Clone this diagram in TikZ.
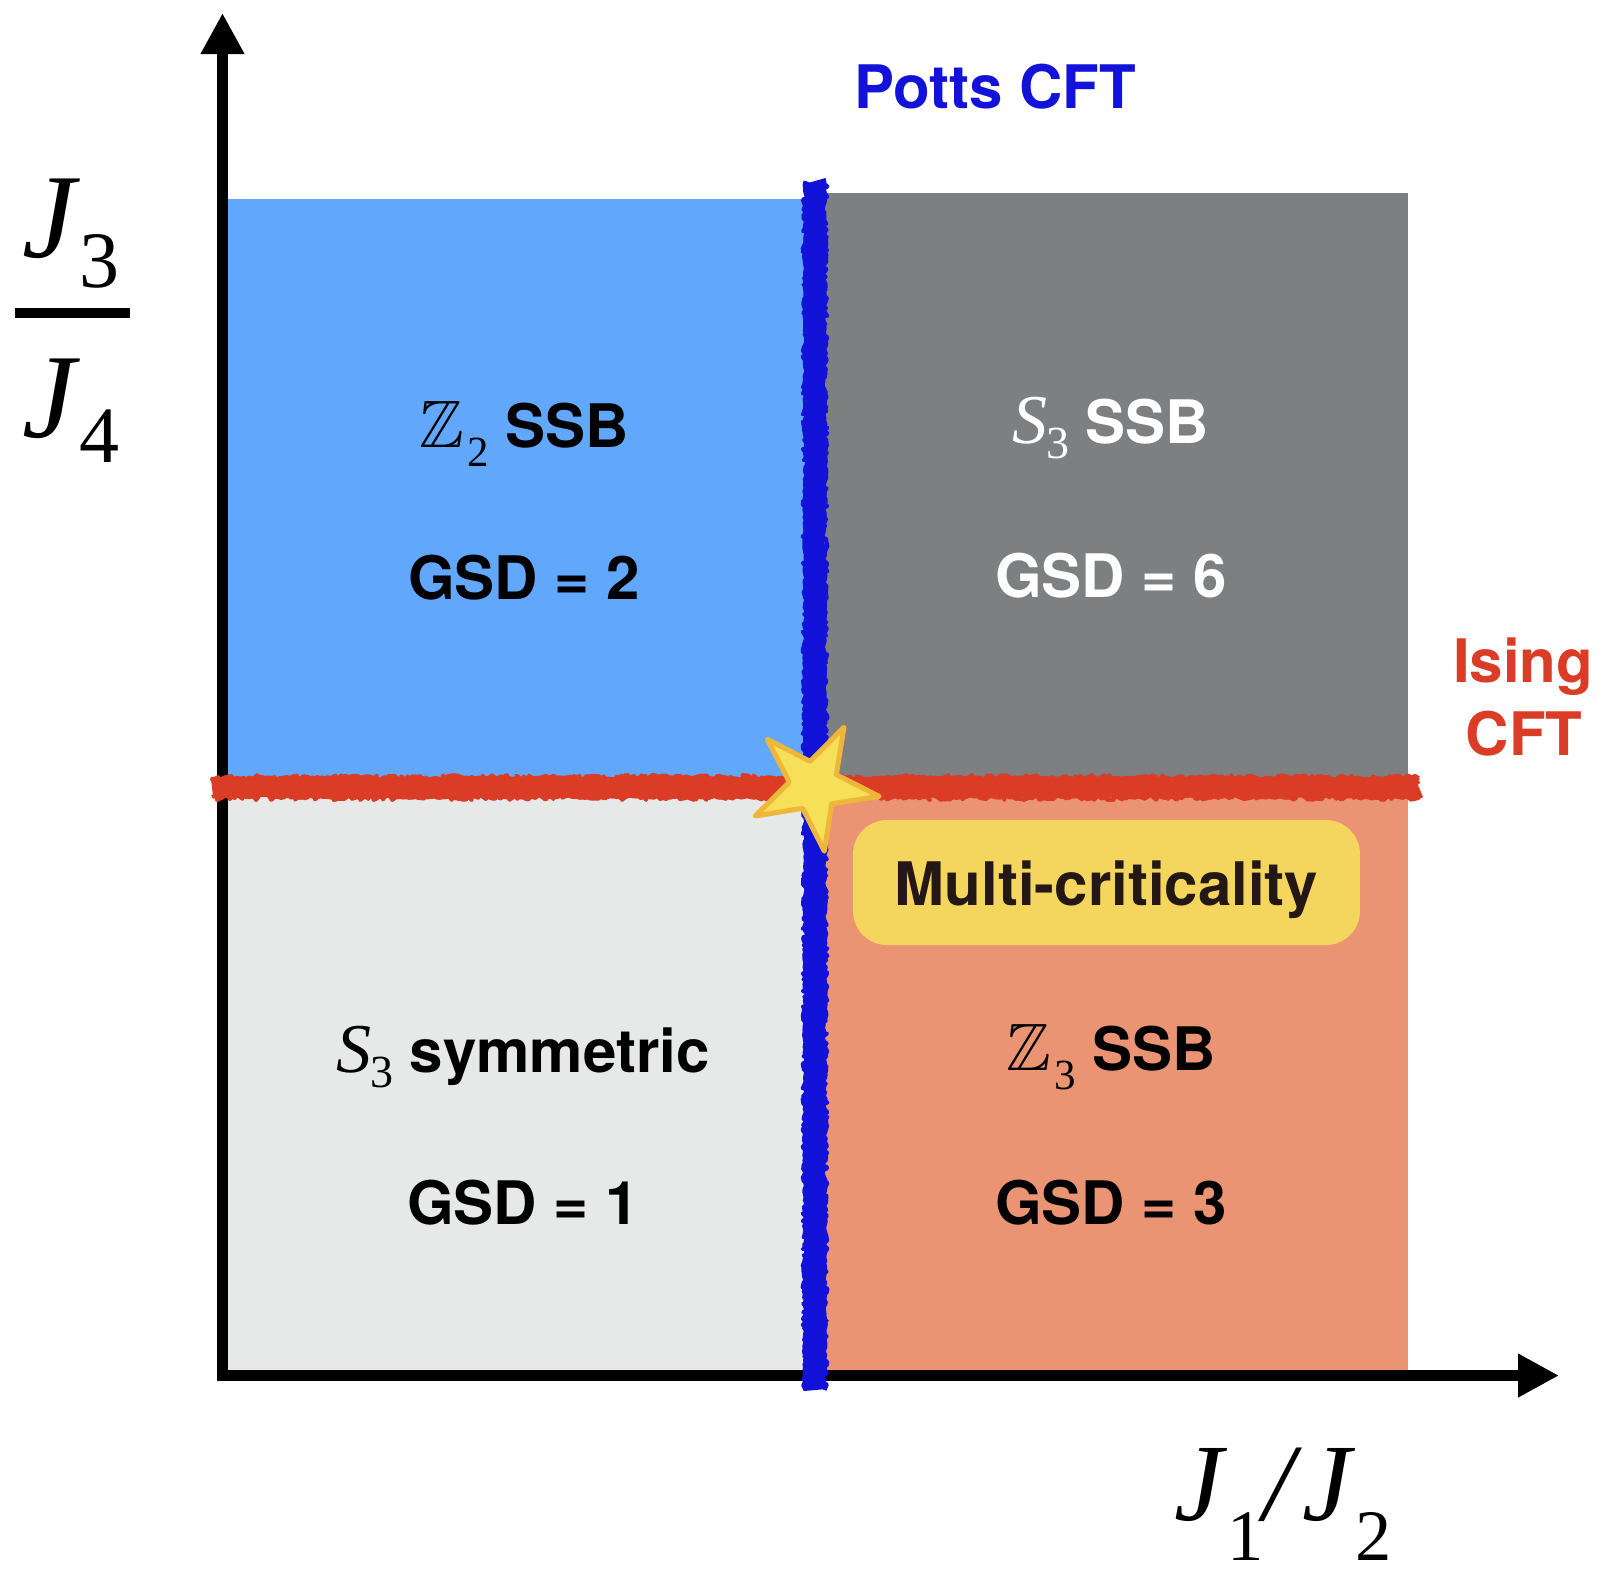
\documentclass[tikz,border=0pt]{standalone}
\usepackage{amssymb}
\usepackage{fontspec}
\setmainfont{Liberation Serif}
\newfontfamily\hel{TeX Gyre Heros}
\usetikzlibrary{arrows.meta,decorations.pathmorphing}
\definecolor{regblue}{HTML}{61A8FD}
\definecolor{reggray}{HTML}{7E7F81}
\definecolor{reglight}{HTML}{E6E9E8}
\definecolor{regorange}{HTML}{EA9474}
\definecolor{boxyellow}{HTML}{F4D55D}
\definecolor{isingred}{HTML}{DB3C26}
\definecolor{pottsblue}{HTML}{1212D8}
\definecolor{starfill}{HTML}{F6E05A}
\definecolor{stardraw}{HTML}{EFB73A}
\definecolor{mctext}{HTML}{231815}
\newcommand\Zsub[1]{{\fontsize{13.4}{15}\selectfont$\mathbb{Z}$}\kern0.6pt\raisebox{-3.8pt}{\fontsize{8.6}{10}\selectfont\rmfamily\mdseries\upshape #1}}
\newcommand\Ssub[1]{{\fontsize{14}{16}\selectfont\rmfamily\mdseries\itshape S}\kern-0.3pt\raisebox{-3pt}{\fontsize{9.2}{10}\selectfont\rmfamily\mdseries\upshape #1}}
\tikzset{
  lbl/.style={font=\fontsize{12}{14}\selectfont\hel\bfseries, inner sep=0pt, anchor=base},
  axlbl/.style={font=\fontsize{24}{28}\selectfont\rmfamily, inner sep=0pt, anchor=base},
  axisline/.style={line width=2.2pt, -{Triangle[length=8.2pt,width=8.2pt]}},
  mcbox/.style={fill=boxyellow, rounded corners=6.8pt, minimum width=101.4pt, minimum height=25pt, inner sep=0pt},
  chalkred/.style={isingred, line width=4.2pt, line join=round, decorate, decoration={random steps, segment length=0.7pt, amplitude=0.35pt}},
  chalkredthin/.style={isingred, line width=0.8pt, line join=round, decorate, decoration={random steps, segment length=0.5pt, amplitude=0.6pt}},
  chalkblue/.style={pottsblue, line width=4.4pt, line join=round, decorate, decoration={random steps, segment length=0.7pt, amplitude=0.35pt}},
  chalkbluethin/.style={pottsblue, line width=0.8pt, line join=round, decorate, decoration={random steps, segment length=0.5pt, amplitude=0.6pt}},
  starsty/.style={fill=starfill, draw=stardraw, line width=1pt, line join=round}
}
\begin{document}
\begin{tikzpicture}[x=0.2pt, y=-0.2pt]
\pgfmathsetseed{7}
\useasboundingbox (0,0) rectangle (1608,1578);
% regions
\fill[regblue] (222,199) rectangle (815,788);
\fill[reggray] (815,193) rectangle (1408,788);
\fill[reglight] (222,788) rectangle (815,1371);
\fill[regorange] (815,788) rectangle (1408,1371);
% multi-criticality box
\node[mcbox] (mc) at (1106.5,882.5) {};
\node[lbl, text=mctext] (mctext) at (1106.5,905) {Multi-criticality};
% axes
\coordinate (ybot) at (222.5,1381);
\coordinate (ytip) at (222.5,13);
\coordinate (xleft) at (217,1375.5);
\coordinate (xtip) at (1559,1375.5);
\draw[axisline] (ybot) -- (ytip);
\draw[axisline] (xleft) -- (xtip);
% Ising line
\coordinate (redL) at (212,787.5);
\coordinate (redR) at (1419,787.5);
\draw[chalkred] (redL) -- (redR);
\draw[chalkredthin] ([yshift=-1.9pt]redL) -- ([yshift=-1.9pt]redR);
\draw[chalkredthin] ([yshift=1.9pt]redL) -- ([yshift=1.9pt]redR);
% Potts line
\coordinate (blueT) at (815,181);
\coordinate (blueB) at (815,1390);
\draw[chalkblue] (blueT) -- (blueB);
\draw[chalkbluethin] ([xshift=-1.9pt]blueT) -- ([xshift=-1.9pt]blueB);
\draw[chalkbluethin] ([xshift=1.9pt]blueT) -- ([xshift=1.9pt]blueB);
% star
\coordinate (mcp) at (814,786);
\filldraw[starsty] (mcp) +(-63:66) -- +(-99:25) -- +(-135:66) -- +(-171:25) -- +(-207:66) -- +(-243:25) -- +(-279:66) -- +(-315:25) -- +(-351:66) -- +(-27:25) -- cycle;
% phase labels
\node[lbl] (z2) at (524,447) {\Zsub{2} SSB};
\node[lbl] (gsd2) at (524,599) {GSD = 2};
\node[lbl, text=white] (s3ssb) at (1111,443) {\Ssub{3} SSB};
\node[lbl, text=white] (gsd6) at (1111,597) {GSD = 6};
\node[lbl] (s3sym) at (523,1072) {\Ssub{3} symmetric};
\node[lbl] (gsd1) at (523,1224) {GSD = 1};
\node[lbl] (z3) at (1111,1070) {\Zsub{3} SSB};
\node[lbl] (gsd3) at (1111,1224) {GSD = 3};
% critical line labels
\node[lbl, text=pottsblue] (potts) at (995,108) {Potts CFT};
\node[lbl, text=isingred] (ising) at (1523,682) {Ising};
\node[lbl, text=isingred] (cft) at (1524,755) {CFT};
% axis labels
\node[axlbl] (num) at (71,257) {\textit{J}\raisebox{-6pt}{\fontsize{16}{18}\selectfont 3}};
\node[axlbl] (den) at (71,437) {\textit{J}\raisebox{-5pt}{\fontsize{16}{18}\selectfont 4}};
\coordinate (barL) at (15,313);
\coordinate (barR) at (130,313);
\draw[line width=2pt] (barL) -- (barR);
\node[axlbl, font=\fontsize{22}{26}\selectfont\rmfamily] (xlbl) at (1283,1520) {\textit{J}\raisebox{-8pt}{\fontsize{14.5}{16}\selectfont 1}\textit{/}\textit{J}\raisebox{-8pt}{\fontsize{14.5}{16}\selectfont 2}};
\end{tikzpicture}
\end{document}
